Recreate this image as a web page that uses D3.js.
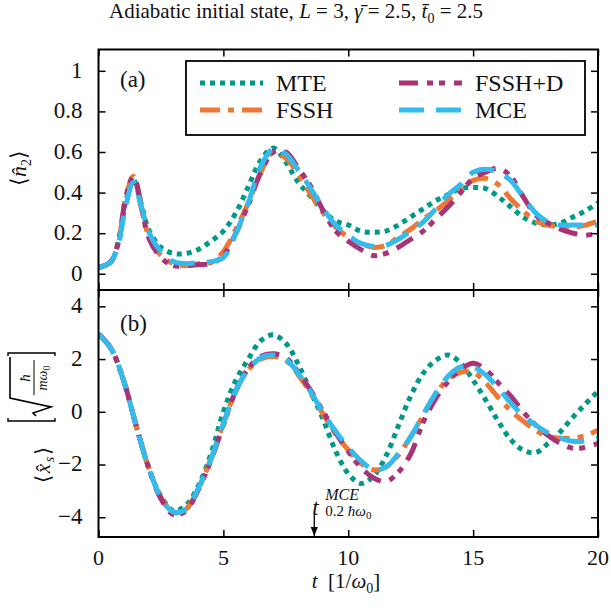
<!DOCTYPE html>
<html lang="en">
<head>
<meta charset="UTF-8">
<script src="https://d3js.org/d3.v7.min.js"></script>
<style>
  body { margin: 0; background: #fff; }
  text { font-family: 'Liberation Serif', 'Times New Roman', serif; fill: #111; }
  .frame { fill: none; stroke: #000; stroke-width: 2px; }
  .tick line { stroke: #000; stroke-width: 1.5px; }
  .domain { display: none; }
  path.series { fill: none; stroke-width: 5px; stroke-linecap: butt; }
</style>
</head>
<body>
<script>
// time grid of panel (a), denser around the first peak
const tA = [0, 0.5, 0.8, 1.1, 1.4, 1.7, 2, 2.5, 3, 3.5, 4, 4.5, 5, 5.5, 6, 6.5, 7, 7.5, 8, 8.5, 9, 9.5,
  10, 10.5, 11, 11.5, 12, 12.5, 13, 13.5, 14, 14.5, 15, 15.5, 16, 16.5, 17, 17.5, 18, 18.5, 19, 19.5, 20];

// <n2> values
const n2MTE = [0.03, 0.06, 0.16, 0.36, 0.46, 0.35, 0.22, 0.13, 0.10, 0.10, 0.12, 0.16, 0.21, 0.30, 0.43, 0.56, 0.62, 0.55, 0.45, 0.38, 0.31, 0.26,
  0.24, 0.21, 0.205, 0.21, 0.24, 0.28, 0.32, 0.36, 0.39, 0.42, 0.425, 0.42, 0.38, 0.33, 0.28, 0.25, 0.24, 0.25, 0.28, 0.31, 0.35];
const n2FSSH = [0.03, 0.06, 0.16, 0.38, 0.48, 0.33, 0.19, 0.09, 0.05, 0.04, 0.05, 0.055, 0.11, 0.22, 0.35, 0.50, 0.60, 0.57, 0.49, 0.39, 0.30, 0.23,
  0.18, 0.15, 0.13, 0.14, 0.18, 0.22, 0.27, 0.31, 0.36, 0.42, 0.46, 0.47, 0.44, 0.37, 0.31, 0.26, 0.24, 0.23, 0.23, 0.24, 0.26];
const n2FSSHD = [0.03, 0.06, 0.16, 0.38, 0.48, 0.35, 0.18, 0.08, 0.04, 0.04, 0.045, 0.05, 0.09, 0.20, 0.34, 0.50, 0.60, 0.60, 0.52, 0.43, 0.31, 0.21,
  0.16, 0.12, 0.09, 0.10, 0.13, 0.17, 0.21, 0.27, 0.33, 0.40, 0.47, 0.50, 0.52, 0.48, 0.38, 0.29, 0.25, 0.22, 0.20, 0.19, 0.20];
const n2MCE = [0.03, 0.06, 0.15, 0.34, 0.45, 0.34, 0.21, 0.11, 0.06, 0.05, 0.055, 0.06, 0.08, 0.20, 0.35, 0.53, 0.615, 0.59, 0.51, 0.42, 0.32, 0.24,
  0.19, 0.15, 0.135, 0.14, 0.17, 0.21, 0.255, 0.32, 0.39, 0.44, 0.50, 0.515, 0.50, 0.46, 0.38, 0.30, 0.255, 0.24, 0.24, 0.24, 0.24];

// time grid of panel (b)
const tB = d3.range(0, 20.01, 0.5);

// <x_s> values
const xsMTE = [2.95, 2.4, 1.2, -0.5, -2.1, -3.2, -3.75, -3.55, -2.8, -1.6, 0.0, 1.2, 2.0, 2.7, 2.92, 2.6, 1.8, 0.75, -0.3, -1.5,
  -2.35, -2.72, -2.45, -1.7, -0.55, 0.6, 1.46, 1.95, 2.15, 1.85, 1.2, 0.45, -0.35, -1.05, -1.45, -1.55, -1.2, -0.75, -0.2, 0.3, 0.78];
const xsFSSH = [2.95, 2.4, 1.2, -0.5, -2.1, -3.25, -3.82, -3.7, -2.9, -1.8, -0.45, 0.8, 1.6, 2.0, 2.1, 1.95, 1.4, 0.7, -0.1, -0.85,
  -1.45, -1.95, -2.2, -2.1, -1.65, -0.95, -0.15, 0.65, 1.25, 1.5, 1.5, 1.1, 0.55, 0.05, -0.35, -0.7, -0.95, -1.0, -1.0, -0.9, -0.7];
const xsFSSHD = [2.95, 2.4, 1.2, -0.5, -2.1, -3.3, -3.9, -3.75, -2.95, -1.85, -0.5, 0.8, 1.65, 2.1, 2.2, 2.05, 1.5, 0.8, 0.0, -0.8,
  -1.5, -2.1, -2.5, -2.65, -2.3, -1.6, -0.4, 0.5, 1.15, 1.6, 1.84, 1.6, 1.1, 0.6, 0.0, -0.5, -0.9, -1.2, -1.38, -1.35, -1.2];
const xsMCE = [2.95, 2.4, 1.2, -0.5, -2.1, -3.25, -3.8, -3.7, -2.9, -1.8, -0.45, 0.8, 1.6, 2.05, 2.15, 2.0, 1.45, 0.75, -0.05, -0.75,
  -1.35, -1.85, -2.2, -2.1, -1.6, -0.95, -0.1, 0.7, 1.35, 1.7, 1.7, 1.4, 0.9, 0.35, -0.15, -0.5, -0.8, -1.0, -1.12, -1.1, -1.0];

const seriesNames = ["MTE", "FSSH", "FSSH+D", "MCE"];
const seriesColors = ["#009988", "#ee7733", "#aa3377", "#33bbee"];
const seriesDash = ["5,5", "20,8,6,8", "19,9,6,6,6,9", "25,12"];

const xTicks = [0, 5, 10, 15, 20];
const yTicksA = [0, 0.2, 0.4, 0.6, 0.8, 1];
const yTicksB = [-4, -2, 0, 2, 4];

const W = 611, H = 614;
const left = 98.5, right = 598, aTop = 49.5, aBot = 290, bBot = 537;

const svg = d3.select("body").append("svg").attr("width", W).attr("height", H);

const x = d3.scaleLinear().domain([0, 20]).range([left, right]);
const yA = d3.scaleLinear().domain([-0.08, 1.105]).range([aBot, aTop]);
const yB = d3.scaleLinear().domain([-4.75, 4.62]).range([bBot, aBot]);

// title
svg.append("text").attr("x", 296).attr("y", 18).attr("text-anchor", "middle").style("font-size", "21px")
  .html('Adiabatic initial state, <tspan font-style="italic">L</tspan> = 3, <tspan font-style="italic">γ̄</tspan> = 2.5, <tspan font-style="italic">t̄</tspan><tspan dy="5" font-size="14px">0</tspan><tspan dy="-5"> = 2.5</tspan>');

const defs = svg.append("defs");
defs.append("clipPath").attr("id", "clipA").append("rect")
  .attr("x", left).attr("y", aTop).attr("width", right - left).attr("height", aBot - aTop);
defs.append("clipPath").attr("id", "clipB").append("rect")
  .attr("x", left).attr("y", aBot).attr("width", right - left).attr("height", bBot - aBot);
defs.append("marker").attr("id", "arrow").attr("viewBox", "0 0 10 10").attr("refX", 10).attr("refY", 5)
  .attr("markerWidth", 7).attr("markerHeight", 7).attr("orient", "auto-start-reverse")
  .append("path").attr("d", "M0,1 L10,5 L0,9 z").attr("fill", "#000");

function drawPanel(ts, seriesVals, y, top, bot, clipId, yTicks, fmt) {
  const line = d3.line().x((d, i) => x(ts[i])).y(d => y(d)).curve(d3.curveCatmullRom);
  const g = svg.append("g").attr("clip-path", `url(#${clipId})`);
  seriesVals.forEach((vals, k) => {
    g.append("path").attr("class", "series").attr("d", line(vals))
      .attr("stroke", seriesColors[k]).attr("stroke-dasharray", seriesDash[k]);
  });

  svg.append("g").attr("transform", `translate(${left},0)`)
    .call(d3.axisLeft(y).tickValues(yTicks).tickSize(-7).tickPadding(16).tickFormat(fmt))
    .selectAll("text").attr("dy", "0.28em").style("font-size", "23px");
  svg.append("g").attr("transform", `translate(${right},0)`)
    .call(d3.axisRight(y).tickValues(yTicks).tickSize(-7).tickFormat(""));
  svg.append("g").attr("transform", `translate(0,${top})`)
    .call(d3.axisTop(x).tickValues(xTicks).tickSize(-7).tickFormat(""));
  svg.append("g").attr("transform", `translate(0,${bot})`)
    .call(d3.axisBottom(x).tickValues(xTicks).tickSize(-7).tickFormat(""));
  svg.append("rect").attr("class", "frame").attr("x", left).attr("y", top)
    .attr("width", right - left).attr("height", bot - top);
}

drawPanel(tA, [n2MTE, n2FSSH, n2FSSHD, n2MCE], yA, aTop, aBot, "clipA", yTicksA, d => d === 0 || d === 1 ? d3.format("d")(d) : d3.format(".1f")(d));
drawPanel(tB, [xsMTE, xsFSSH, xsFSSHD, xsMCE], yB, aBot, bBot, "clipB", yTicksB, d => d < 0 ? "−" + Math.abs(d) : d);

// x tick labels
svg.append("g").selectAll("text").data(xTicks).join("text")
  .attr("x", d => x(d)).attr("y", 565).attr("text-anchor", "middle").style("font-size", "22px").text(d => d);

// axis titles
svg.append("text").attr("x", 346).attr("y", 588).attr("text-anchor", "middle").style("font-size", "21px")
  .html('<tspan font-style="italic">t</tspan>\u00a0\u00a0[1/<tspan font-style="italic">ω</tspan><tspan dy="5" font-size="14px">0</tspan><tspan dy="-5">]</tspan>');

svg.append("text").attr("transform", "translate(26,168) rotate(-90)").attr("text-anchor", "middle").style("font-size", "22px")
  .html('⟨<tspan font-style="italic">n̂</tspan><tspan dy="5" font-size="14px">2</tspan><tspan dy="-5">⟩</tspan>');

const yl = svg.append("g").attr("transform", "translate(50,415) rotate(-90)");
yl.append("text").attr("x", -68).attr("y", 0).attr("textLength", 36).style("font-size", "21px")
  .html('⟨<tspan font-style="italic">x̂</tspan><tspan dy="4" font-size="14px" font-style="italic">s</tspan><tspan dy="-4">⟩</tspan>');
yl.append("path").attr("d", "M-3,-42 L-6,-42 L-6,5 L-3,5").attr("fill", "none").attr("stroke", "#000").attr("stroke-width", 1.4);
yl.append("path").attr("d", "M59,-42 L62,-42 L62,5 L59,5").attr("fill", "none").attr("stroke", "#000").attr("stroke-width", 1.4);
yl.append("path").attr("d", "M-1,-14 L2,-17 L8,1 L17,-40 L58,-40").attr("fill", "none").attr("stroke", "#000").attr("stroke-width", 1.6);
yl.append("text").attr("x", 37).attr("y", -20).attr("text-anchor", "middle").style("font-size", "15px").style("font-style", "italic").text("ħ");
yl.append("line").attr("x1", 20).attr("x2", 55).attr("y1", -16).attr("y2", -16).attr("stroke", "#000").attr("stroke-width", 1);
yl.append("text").attr("x", 37).attr("y", -3).attr("text-anchor", "middle").style("font-size", "14px")
  .html('<tspan font-style="italic">mω</tspan><tspan dy="3" font-size="10px">0</tspan>');

// panel labels
svg.append("text").attr("x", 120).attr("y", 87).style("font-size", "23px").text("(a)");
svg.append("text").attr("x", 120).attr("y", 331).style("font-size", "23px").text("(b)");

// legend
const lg = svg.append("g");
lg.append("rect").attr("x", 186).attr("y", 61).attr("width", 399).attr("height", 74)
  .attr("fill", "#fff").attr("stroke", "#000").attr("stroke-width", 1.8);
const legPos = [[200, 83], [200, 110], [399, 83], [399, 110]];
seriesNames.forEach((name, k) => {
  const [lx, ly] = legPos[k];
  lg.append("line").attr("x1", lx).attr("x2", lx + 63).attr("y1", ly).attr("y2", ly)
    .attr("stroke", seriesColors[k]).attr("stroke-width", 5).attr("stroke-dasharray", seriesDash[k]);
  lg.append("text").attr("x", lx + 76).attr("y", ly).attr("dy", "0.34em").style("font-size", "24px").text(name);
});

// annotation arrow
const tMark = 8.64;
svg.append("line").attr("x1", x(tMark)).attr("x2", x(tMark)).attr("y1", 514).attr("y2", bBot - 1)
  .attr("stroke", "#000").attr("stroke-width", 1.3).attr("marker-end", "url(#arrow)");
svg.append("text").attr("x", x(tMark) - 2).attr("y", 515).style("font-size", "23px").style("font-style", "italic").text("t");
svg.append("text").attr("x", x(tMark) + 11).attr("y", 500).style("font-size", "16px").style("font-style", "italic").text("MCE");
svg.append("text").attr("x", x(tMark) + 11).attr("y", 516).style("font-size", "15px")
  .html('0.2\u00a0<tspan font-style="italic">ħω</tspan><tspan dy="3" font-size="11px">0</tspan>');
</script>
</body>
</html>
